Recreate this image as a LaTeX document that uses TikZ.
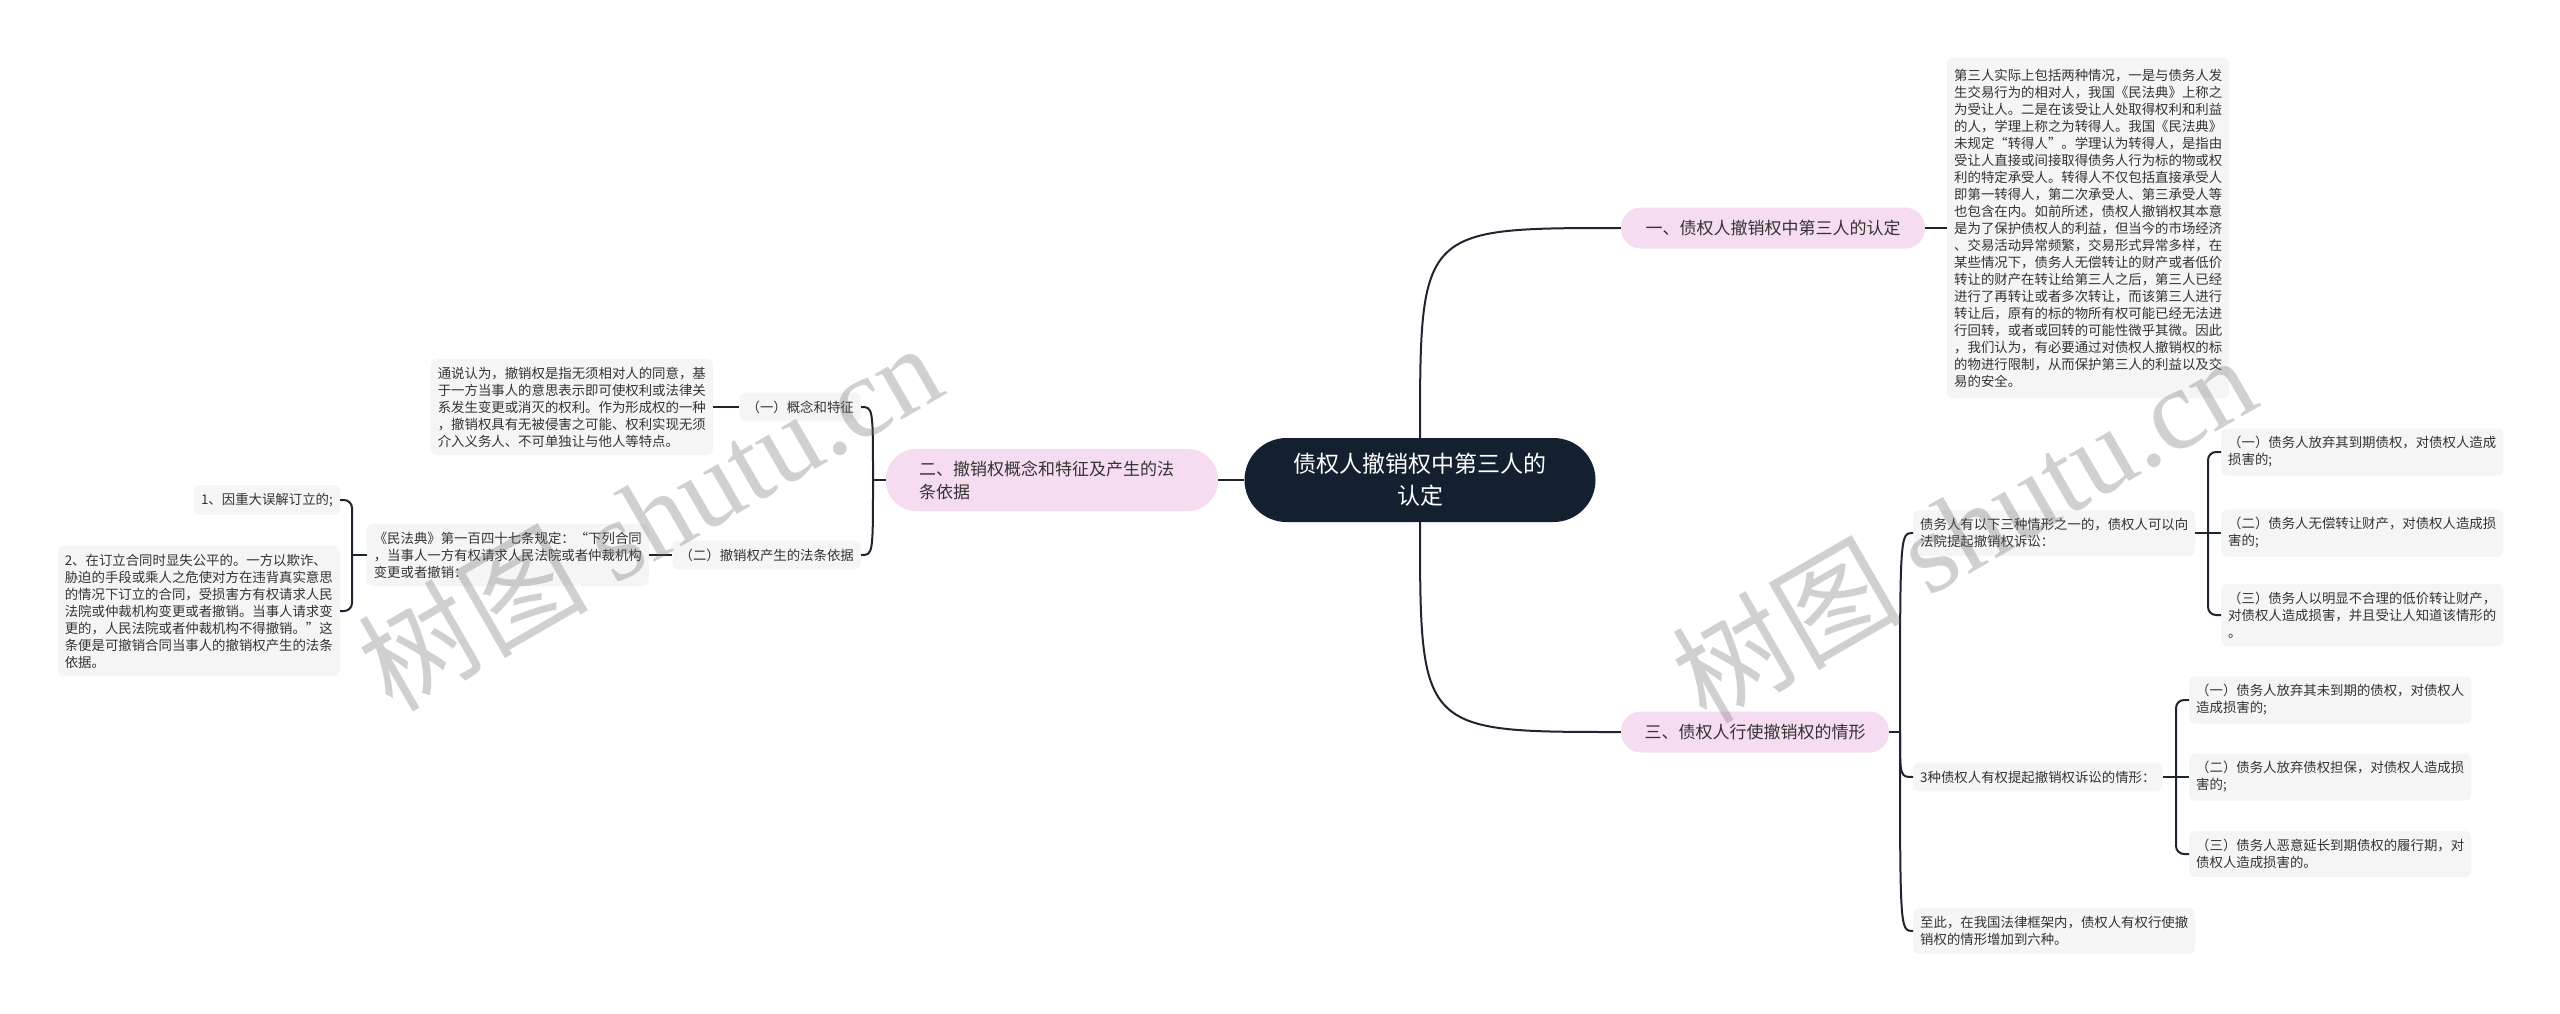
\documentclass[tikz,border=0pt]{standalone}
\usepackage{fontspec}
\setmainfont{Noto Sans CJK SC}
\newfontfamily\wmserif{Liberation Serif}
\definecolor{navy}{HTML}{14202F}
\definecolor{pinkfill}{HTML}{F6DCF0}
\definecolor{boxfill}{HTML}{F5F5F5}
\definecolor{linec}{HTML}{1E2430}
\definecolor{txt}{HTML}{333333}
\begin{document}
\begin{tikzpicture}[x=1pt,y=-1pt,
  root/.style={fill=navy, text=white, rounded corners=42pt, minimum width=351pt, minimum height=84pt, align=center, font=\fontsize{23}{32}\selectfont, inner sep=0pt},
  branch/.style={fill=pinkfill, text=txt, rounded corners=20pt, minimum height=41pt, font=\fontsize{17}{23}\selectfont, inner sep=0pt},
  leaf/.style={fill=boxfill, text=txt, rounded corners=6pt, align=left, font=\fontsize{13.4}{17}\selectfont, inner xsep=7pt, inner ysep=8pt},
  conn/.style={draw=linec, line width=2pt},
  bracket/.style={conn, rounded corners=8pt},
  wm/.style={text=black!60, text opacity=0.3, font=\fontsize{115}{115}\selectfont, rotate=30}
]
\fill[white] (0,0) rectangle (2560,1013);
\useasboundingbox (0,0) rectangle (2560,1013);

% root and main branches
\node[root] (root) at (1420,480) {债权人撤销权中第三人的\\认定};
\node[branch, minimum width=304pt] (b1) at (1773,228) {一、债权人撤销权中第三人的认定};
\node[branch, minimum width=268pt] (b3) at (1755,732) {三、债权人行使撤销权的情形};
\node[branch, minimum width=332pt, minimum height=62pt, rounded corners=30pt, align=left, text width=266pt, inner xsep=33pt] (b2) at (1052,480) {二、撤销权概念和特征及产生的法\\条依据};

% branch one detail
\node[leaf, anchor=west, inner ysep=11pt] (t1) at (1947,228) {第三人实际上包括两种情况，一是与债务人发\\生交易行为的相对人，我国《民法典》上称之\\为受让人。二是在该受让人处取得权利和利益\\的人，学理上称之为转得人。我国《民法典》\\未规定“转得人”。学理认为转得人，是指由\\受让人直接或间接取得债务人行为标的物或权\\利的特定承受人。转得人不仅包括直接承受人\\即第一转得人，第二次承受人、第三承受人等\\也包含在内。如前所述，债权人撤销权其本意\\是为了保护债权人的利益，但当今的市场经济\\、交易活动异常频繁，交易形式异常多样，在\\某些情况下，债务人无偿转让的财产或者低价\\转让的财产在转让给第三人之后，第三人已经\\进行了再转让或者多次转让，而该第三人进行\\转让后，原有的标的物所有权可能已经无法进\\行回转，或者或回转的可能性微乎其微。因此\\，我们认为，有必要通过对债权人撤销权的标\\的物进行限制，从而保护第三人的利益以及交\\易的安全。};

% branch two details
\node[leaf, anchor=east] (c21) at (861,407) {（一）概念和特征};
\node[leaf, anchor=east] (d21) at (713,407) {通说认为，撤销权是指无须相对人的同意，基\\于一方当事人的意思表示即可使权利或法律关\\系发生变更或消灭的权利。作为形成权的一种\\，撤销权具有无被侵害之可能、权利实现无须\\介入义务人、不可单独让与他人等特点。};
\node[leaf, anchor=east] (c22) at (861,555) {（二）撤销权产生的法条依据};
\node[leaf, anchor=east] (d22) at (649,555) {《民法典》第一百四十七条规定：“下列合同\\，当事人一方有权请求人民法院或者仲裁机构\\变更或者撤销：};
\node[leaf, anchor=east] (e1) at (340,500) {1、因重大误解订立的;};
\node[leaf, anchor=east] (e2) at (340,611) {2、在订立合同时显失公平的。一方以欺诈、\\胁迫的手段或乘人之危使对方在违背真实意思\\的情况下订立的合同，受损害方有权请求人民\\法院或仲裁机构变更或者撤销。当事人请求变\\更的，人民法院或者仲裁机构不得撤销。”这\\条便是可撤销合同当事人的撤销权产生的法条\\依据。};

% branch three details
\node[leaf, anchor=west] (r1) at (1913,533) {债务人有以下三种情形之一的，债权人可以向\\法院提起撤销权诉讼：};
\node[leaf, anchor=west] (r1a) at (2221,452) {（一）债务人放弃其到期债权，对债权人造成\\损害的;};
\node[leaf, anchor=west] (r1b) at (2221,533) {（二）债务人无偿转让财产，对债权人造成损\\害的;};
\node[leaf, anchor=west] (r1c) at (2221,615) {（三）债务人以明显不合理的低价转让财产，\\对债权人造成损害，并且受让人知道该情形的\\。};
\node[leaf, anchor=west] (r2) at (1913,777) {3种债权人有权提起撤销权诉讼的情形：};
\node[leaf, anchor=west] (r2a) at (2189,700) {（一）债务人放弃其未到期的债权，对债权人\\造成损害的;};
\node[leaf, anchor=west] (r2b) at (2189,777) {（二）债务人放弃债权担保，对债权人造成损\\害的;};
\node[leaf, anchor=west] (r2c) at (2189,854) {（三）债务人恶意延长到期债权的履行期，对\\债权人造成损害的。};
\node[leaf, anchor=west] (r3) at (1913,931) {至此，在我国法律框架内，债权人有权行使撤\\销权的情形增加到六种。};

% connectors from root
\draw[conn] (root.north) .. controls (1420,228) .. (b1.west);
\draw[conn] (root.south) .. controls (1420,732) .. (b3.west);
\draw[conn] (root.west) -- (b2.east);
\draw[conn] (b1.east) -- (t1.west);

% branch two connectors
\coordinate (j2) at (873,480);
\draw[conn] (b2.west) -- (j2);
\draw[conn] (j2) .. controls (873,407) .. (c21.east);
\draw[conn] (j2) .. controls (873,555) .. (c22.east);
\draw[conn] (c21.west) -- (d21.east);
\draw[conn] (c22.west) -- (d22.east);
\coordinate (jb) at (352,555);
\draw[conn] (d22.west) -- (jb);
\draw[bracket] (jb) |- (e1.east);
\draw[bracket] (jb) |- (e2.east);

% branch three connectors
\coordinate (j3) at (1900,732);
\draw[conn] (b3.east) -- (j3);
\draw[conn] (j3) .. controls (1900,533) .. (r1.west);
\draw[conn] (j3) .. controls (1900,777) .. (r2.west);
\draw[conn] (j3) .. controls (1900,931) .. (r3.west);
\coordinate (jr1) at (2208,533);
\draw[conn] (r1.east) -- (jr1);
\draw[bracket] (jr1) |- (r1a.west);
\draw[conn] (jr1) -- (r1b.west);
\draw[bracket] (jr1) |- (r1c.west);
\coordinate (jr2) at (2176,777);
\draw[conn] (r2.east) -- (jr2);
\draw[bracket] (jr2) |- (r2a.west);
\draw[conn] (jr2) -- (r2b.west);
\draw[bracket] (jr2) |- (r2c.west);

% watermarks
\node[wm] (wm1) at (649,515) {树图 {\wmserif shutu.cn}};
\node[wm] (wm2) at (1963,527) {树图 {\wmserif shutu.cn}};
\end{tikzpicture}
\end{document}
